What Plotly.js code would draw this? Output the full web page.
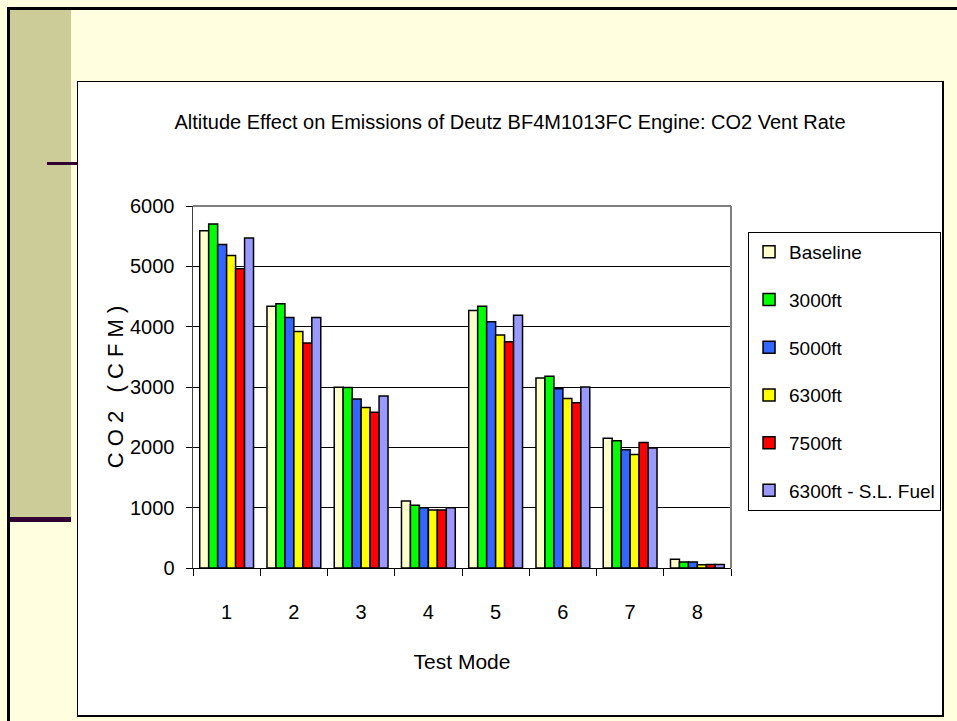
<!DOCTYPE html>
<html>
<head>
<meta charset="utf-8">
<script src="https://cdn.plot.ly/plotly-3.0.1.min.js"></script>
<style>
  html, body { margin: 0; padding: 0; width: 957px; height: 721px; overflow: hidden; background: #FFFFE0; }
  .deco { position: absolute; }
  #chart { position: absolute; left: 77px; top: 81px; width: 864px; height: 633px; border: 1px solid #000; border-right-width: 2px; border-bottom-width: 2px; background: #fff; }
</style>
</head>
<body>
<div class="deco" style="left:7px;top:7px;width:950px;height:3px;background:#000;"></div>
<div class="deco" style="left:7px;top:7px;width:3px;height:714px;background:#000;"></div>
<div class="deco" style="left:10px;top:10px;width:61px;height:507px;background:#CCCC99;"></div>
<div class="deco" style="left:10px;top:517px;width:61px;height:5px;background:#330033;"></div>
<div class="deco" style="left:47px;top:162px;width:32px;height:3px;background:#330033;"></div>
<div id="chart"></div>
<script>
const categories = ["1", "2", "3", "4", "5", "6", "7", "8"];
const seriesNames = ["Baseline", "3000ft", "5000ft", "6300ft", "7500ft", "6300ft - S.L. Fuel"];
const baseline = [5590, 4340, 2995, 1110, 4270, 3150, 2150, 145];
const ft3000   = [5700, 4380, 2990, 1040, 4340, 3180, 2110, 100];
const ft5000   = [5360, 4150, 2800, 1000, 4080, 2970, 1960, 100];
const ft6300   = [5180, 3920, 2660, 960, 3860, 2810, 1880, 55];
const ft7500   = [4960, 3730, 2580, 960, 3750, 2740, 2080, 60];
const ft6300SL = [5470, 4150, 2850, 1000, 4190, 3000, 1990, 60];
const yTicks = [0, 1000, 2000, 3000, 4000, 5000, 6000];

const seriesValues = [baseline, ft3000, ft5000, ft6300, ft7500, ft6300SL];
const colors = ["#FFFFCC", "#00FF00", "#3366FF", "#FFFF00", "#FF0000", "#9999FF"];
const FONT = '"Liberation Sans", Arial, sans-serif';
const NB = "\u00A0";

const traces = seriesNames.map((name, i) => ({
  type: "bar",
  name: name,
  x: categories,
  y: seriesValues[i],
  legendgroup: "g" + i,
  marker: { color: colors[i], line: { color: "#000", width: 1.5 } },
  hoverinfo: "x+y+name"
}));

const layout = {
  width: 864,
  height: 633,
  margin: { l: 115, r: 211, t: 124, b: 147 },
  paper_bgcolor: "#ffffff",
  plot_bgcolor: "#ffffff",
  font: { family: FONT, color: "#000", size: 20 },
  title: {
    text: "Altitude Effect on Emissions of Deutz BF4M1013FC Engine: CO2 Vent Rate",
    font: { family: FONT, size: 20, color: "#000" },
    x: 0.5, xref: "container", xanchor: "center",
    y: 0.937, yref: "container", yanchor: "middle"
  },
  barmode: "group",
  bargap: 0.2,
  bargroupgap: 0,
  showlegend: true,
  legend: {
    xref: "container", yref: "container",
    x: 0.7755, xanchor: "left", y: 0.763, yanchor: "top",
    bgcolor: "#ffffff", bordercolor: "#000", borderwidth: 1,
    font: { family: FONT, size: 19, color: "#000" },
    traceorder: "grouped", tracegroupgap: 20
  },
  xaxis: {
    type: "category",
    categoryorder: "array",
    categoryarray: categories,
    tickson: "boundaries",
    ticks: "outside", ticklen: 7, tickcolor: "#000", tickwidth: 1,
    showline: true, linecolor: "#000", linewidth: 1,
    showgrid: false, zeroline: false, automargin: false,
    tickfont: { family: FONT, size: 20 },
    ticklabelstandoff: 26,
    title: { text: "Test Mode", font: { family: FONT, size: 21 }, standoff: 32 }
  },
  yaxis: {
    range: [0, 6000],
    tickvals: yTicks,
    ticktext: yTicks.map(String),
    ticks: "outside", ticklen: 6, tickcolor: "#000", tickwidth: 1,
    showline: true, linecolor: "#404040", linewidth: 1.5,
    showgrid: true, gridcolor: "#000", gridwidth: 1,
    zeroline: false, automargin: false,
    tickfont: { family: FONT, size: 20 },
    ticklabelstandoff: 7,
    title: { text: ["C", "O", "2", NB, "(", "C", "F", "M", ")"].join(NB), font: { family: FONT, size: 22 }, standoff: 0 }
  },
  shapes: [
    { type: "line", xref: "paper", yref: "paper", x0: 0, x1: 1, y0: 1, y1: 1, line: { color: "#808080", width: 2 }, layer: "above" },
    { type: "line", xref: "paper", yref: "paper", x0: 1, x1: 1, y0: 0, y1: 1, line: { color: "#808080", width: 2 }, layer: "above" }
  ]
};

Plotly.newPlot("chart", traces, layout, { displayModeBar: false, staticPlot: true });
</script>
</body>
</html>
